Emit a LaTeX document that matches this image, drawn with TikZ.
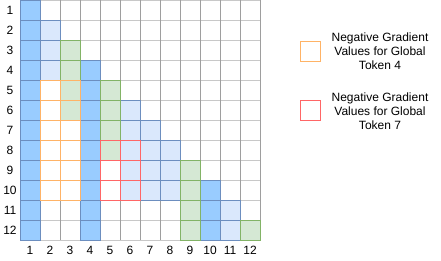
\documentclass[tikz,border=0pt]{standalone}
\usepackage{fontspec}
\setmainfont{Liberation Sans}
\definecolor{dblue}{HTML}{99CCFF}
\definecolor{bstroke}{HTML}{6C8EBF}
\definecolor{lblue}{HTML}{DAE8FC}
\definecolor{gfill}{HTML}{D5E8D4}
\definecolor{gstroke}{HTML}{82B366}
\definecolor{ostroke}{HTML}{FFB366}
\definecolor{rstroke}{HTML}{FF6666}
\definecolor{hgrid}{HTML}{C8C8C8}
\definecolor{vgrid}{HTML}{9E9E9E}
\newcommand\gcell[3]{\draw[#3] ({20*#1},{20*(#2-1)}) rectangle ++(20,20);}
\tikzset{
  gridH/.style={draw=hgrid,line width=1.5pt},
  gridV/.style={draw=vgrid,line width=1pt},
  cellDark/.style={fill=dblue,draw=bstroke,line width=1pt},
  cellLight/.style={fill=lblue,draw=bstroke,line width=1pt},
  cellGreen/.style={fill=gfill,draw=gstroke,line width=1pt},
  outOrange/.style={draw=ostroke,line width=1.2pt},
  outRed/.style={draw=rstroke,line width=1.2pt},
  numLabel/.style={font=\fontsize{12pt}{14pt}\selectfont},
  legLabel/.style={font=\fontsize{12pt}{14pt}\selectfont,align=center}
}
\begin{document}
\begin{tikzpicture}[x=1pt,y=-1pt]
\useasboundingbox (0,0) rectangle (441,261);
\begin{scope}[shift={(0.5,0.5)}]
% grid
\foreach \ii in {0,...,12} {\draw[gridH] (20,{20*\ii}) -- (260,{20*\ii});}
\foreach \ii in {1,...,12} {\draw[gridV] ({20+20*\ii},0) -- ({20+20*\ii},240);}
% dark blue
\foreach \ri in {1,...,12} {\gcell{1}{\ri}{cellDark}}
\foreach \ri in {4,...,12} {\gcell{4}{\ri}{cellDark}}
\foreach \ri in {10,...,12} {\gcell{10}{\ri}{cellDark}}
% light blue
\foreach \ri in {2,...,4} {\gcell{2}{\ri}{cellLight}}
\foreach \ri in {6,...,10} {\gcell{6}{\ri}{cellLight}}
\foreach \ri in {7,...,10} {\gcell{7}{\ri}{cellLight}}
\foreach \ri in {8,...,10} {\gcell{8}{\ri}{cellLight}}
\foreach \ri in {11,12} {\gcell{11}{\ri}{cellLight}}
% green
\foreach \ri in {3,...,6} {\gcell{3}{\ri}{cellGreen}}
\foreach \ri in {5,...,8} {\gcell{5}{\ri}{cellGreen}}
\foreach \ri in {9,...,12} {\gcell{9}{\ri}{cellGreen}}
\gcell{12}{12}{cellGreen}
% orange outlines
\foreach \ci in {2,3} {\foreach \ri in {5,...,10} {\gcell{\ci}{\ri}{outOrange}}}
% red outlines
\foreach \ci in {5,6} {\foreach \ri in {8,...,10} {\gcell{\ci}{\ri}{outRed}}}
% legend squares
\draw[outOrange] (300,41) rectangle (320,61);
\draw[outRed] (300,100) rectangle (320,120);
\end{scope}
% row labels
\node[numLabel] (row1) at (10,10) {1};
\node[numLabel] (row2) at (10,30) {2};
\node[numLabel] (row3) at (10,50) {3};
\node[numLabel] (row4) at (10,70) {4};
\node[numLabel] (row5) at (10,90) {5};
\node[numLabel] (row6) at (10,110) {6};
\node[numLabel] (row7) at (10,130) {7};
\node[numLabel] (row8) at (10,150) {8};
\node[numLabel] (row9) at (10,170) {9};
\node[numLabel] (row10) at (10,190) {10};
\node[numLabel] (row11) at (10,210) {11};
\node[numLabel] (row12) at (10,230) {12};
% column labels
\node[numLabel] (col1) at (30,250) {1};
\node[numLabel] (col2) at (50,250) {2};
\node[numLabel] (col3) at (70,250) {3};
\node[numLabel] (col4) at (90,250) {4};
\node[numLabel] (col5) at (110,250) {5};
\node[numLabel] (col6) at (130,250) {6};
\node[numLabel] (col7) at (150,250) {7};
\node[numLabel] (col8) at (170,250) {8};
\node[numLabel] (col9) at (190,250) {9};
\node[numLabel] (col10) at (210,250) {10};
\node[numLabel] (col11) at (230,250) {11};
\node[numLabel] (col12) at (250,250) {12};
% legend text
\node[legLabel] (leg1) at (380,51) {Negative Gradient\\Values for Global\\Token 4};
\node[legLabel] (leg2) at (380,111) {Negative Gradient\\Values for Global\\Token 7};
\end{tikzpicture}
\end{document}
